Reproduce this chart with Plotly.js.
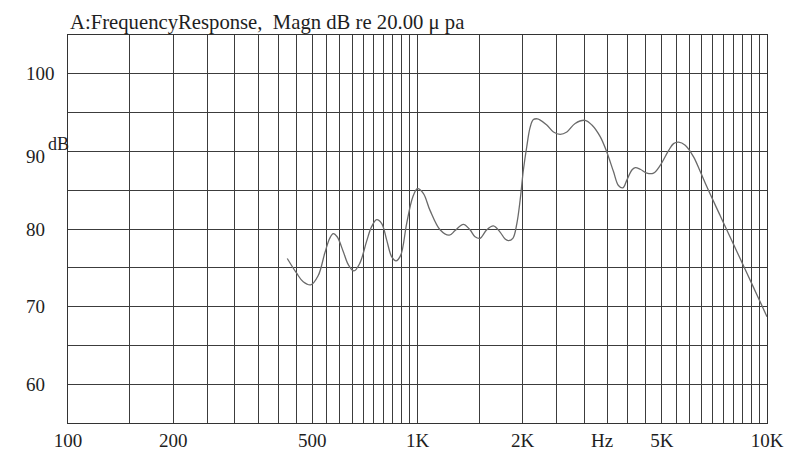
<!DOCTYPE html>
<html>
<head>
<meta charset="utf-8">
<script src="https://cdn.plot.ly/plotly-3.0.1.min.js"></script>
<style>
  html, body { margin: 0; padding: 0; background: #ffffff; }
  #chart { width: 791px; height: 450px; }
</style>
</head>
<body>
<div id="chart"></div>
<script>
// Frequency response (Hz) and magnitude (dB re 20 µPa)
const freqHz = [424, 451, 471, 495, 520, 543, 561, 574, 589, 613, 634, 658, 684, 715, 739,
  764, 790, 816, 844, 868, 895, 931, 969, 1000, 1039, 1086, 1160, 1233, 1281, 1353,
  1413, 1461, 1510, 1578, 1649, 1723, 1781, 1820, 1874, 1924, 1966, 2009, 2054, 2100, 2146,
  2203, 2233, 2344, 2449, 2559, 2675, 2825, 3018, 3155, 3332, 3482, 3637, 3758, 3869, 3972,
  4106, 4197, 4338, 4533, 4734, 4948, 5227, 5402, 5584, 5834, 6164, 6442, 6734, 7350, 8025,
  8763, 9362, 10000];
const magnDb = [76.2, 74.3, 73.2, 72.8, 74.0, 76.9, 78.8, 79.4, 79.0, 77.1, 75.4, 74.6, 75.6, 78.4, 80.3,
  81.2, 80.7, 78.6, 76.4, 75.9, 76.6, 80.7, 84.1, 85.2, 84.6, 82.4, 79.9, 79.2, 79.8, 80.6,
  79.9, 79.0, 78.8, 79.9, 80.4, 79.6, 78.7, 78.5, 78.8, 80.7, 83.7, 87.6, 90.6, 93.1, 94.1,
  94.2, 94.1, 93.4, 92.5, 92.2, 92.5, 93.6, 94.0, 93.4, 91.9, 89.9, 87.4, 85.6, 85.3, 86.3,
  87.6, 87.9, 87.7, 87.2, 87.2, 88.2, 90.1, 91.0, 91.2, 90.8, 89.3, 87.4, 85.4, 81.7, 78.0,
  74.3, 71.5, 68.7];

// Grid frequencies and labelled ticks
const gridLow = [100,150,200,250,300,350,400,450,500,550,600,650,700,750,800,850,900,950];
const gridHigh = [1000,1500,2000,2500,3000,3500,4000,4500,5000,5500,6000,6500,7000,7500,8000,8500,9000,9500,10000];
const xLabelVals = [100, 200, 500, 1000, 2000, 5000, 10000];
const xLabelText = ['100', '200', '500', '1K', '2K', '5K', '10K'];
const yGridVals = [60, 65, 70, 75, 80, 85, 90, 95, 100];
const yLabelVals = [100, 90, 80, 70, 60];
const yLabelText = ['100', '90', '80', '70', '60'];

const gridAll = gridLow.concat(gridHigh);
const tickText = gridAll.map(v => {
  const i = xLabelVals.indexOf(v);
  return i >= 0 ? xLabelText[i] : '';
});

const serif = 'Liberation Serif, Times New Roman, serif';
const ink = '#1e1e1e';

const trace = {
  x: freqHz,
  y: magnDb,
  type: 'scatter',
  mode: 'lines',
  line: { color: '#6a6a6a', width: 1.3, shape: 'spline', smoothing: 1.0 },
  hoverinfo: 'x+y'
};

const annotations = yLabelVals.map((v, i) => ({
  xref: 'paper', yref: 'y',
  x: -0.063, y: v === 90 ? 89.4 : v,
  xanchor: 'left', yanchor: 'middle',
  text: yLabelText[i], showarrow: false,
  font: { family: serif, size: 19, color: ink }
}));
annotations.push({
  xref: 'paper', yref: 'y', x: -0.032, y: 90.9,
  xanchor: 'left', yanchor: 'middle', text: 'dB', showarrow: false,
  font: { family: serif, size: 18, color: ink }
});
annotations.push({
  xref: 'paper', yref: 'paper', x: 0.764, y: -0.044,
  xanchor: 'center', yanchor: 'middle', text: 'Hz', showarrow: false,
  font: { family: serif, size: 19, color: ink }
});

const layout = {
  width: 791, height: 450,
  margin: { l: 68, r: 24, t: 35, b: 27, pad: 0 },
  paper_bgcolor: '#ffffff',
  plot_bgcolor: '#ffffff',
  showlegend: false,
  title: {
    text: 'A:FrequencyResponse,&nbsp; Magn dB re 20.00 μ pa',
    x: 70 / 791, xref: 'container', xanchor: 'left',
    y: 1 - 22 / 450, yref: 'container', yanchor: 'middle',
    font: { family: serif, size: 20.7, color: ink }
  },
  xaxis: {
    type: 'log',
    range: [2, 4],
    tickmode: 'array',
    tickvals: gridAll,
    ticktext: tickText,
    ticks: '',
    showgrid: true,
    gridcolor: '#3c3c3c',
    gridwidth: 1,
    zeroline: false,
    showline: true, mirror: true, linecolor: '#333333', linewidth: 1,
    tickfont: { family: serif, size: 19, color: ink },
    fixedrange: true
  },
  yaxis: {
    range: [55, 105],
    tickmode: 'array',
    tickvals: yGridVals,
    showticklabels: false,
    ticks: '',
    showgrid: true,
    gridcolor: '#3c3c3c',
    gridwidth: 1,
    zeroline: false,
    showline: true, mirror: true, linecolor: '#333333', linewidth: 1,
    fixedrange: true
  },
  annotations: annotations
};

Plotly.newPlot('chart', [trace], layout, { displayModeBar: false, staticPlot: true });
</script>
</body>
</html>
